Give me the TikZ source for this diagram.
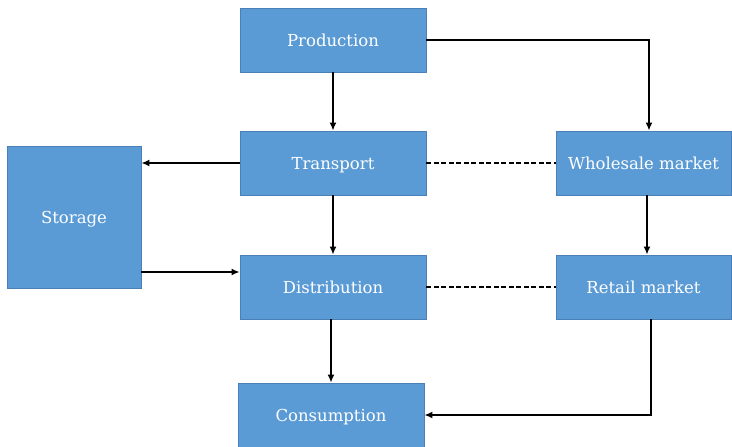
\documentclass[tikz,border=0pt]{standalone}
\usepackage{fontspec}
\setmainfont{DejaVu Serif}
\usetikzlibrary{arrows.meta,positioning}
\definecolor{boxblue}{HTML}{5B9BD5}
\definecolor{boxedge}{HTML}{4A80B8}

\begin{document}
\begin{tikzpicture}[x=1pt,y=1pt,
  stage/.style={draw=boxedge, line width=0.8pt, fill=boxblue, text=white,
    minimum width=186pt, minimum height=64pt, inner sep=0pt,
    text height=12pt, text depth=0pt,
    font=\fontsize{16.5}{19}\selectfont},
  flow/.style={line width=1.6pt, -{Latex[length=8pt,width=7pt]}},
  link/.style={line width=1.6pt, dashed, dash pattern=on 5pt off 2.5pt}]
\useasboundingbox (0,0) rectangle (732,-447);
% main column
\node[stage] (prod) at (333,-40) {Production};
\node[stage] (trans) at (333,-163) {Transport};
\node[stage] (dist) at (333,-287) {Distribution};
\node[stage] (cons) at (331,-415) {Consumption};
% side boxes
\node[stage, minimum width=134pt, minimum height=142pt] (store) at (74,-217) {Storage};
\node[stage, minimum width=175pt] (whole) at (643.5,-163) {Wholesale market};
\node[stage, minimum width=175pt] (retail) at (643.5,-287) {Retail market};
\coordinate (sout) at (141,-272);
\coordinate (rdown) at (651,-319);
% arrows
\draw[flow] (prod) -- (trans);
\draw[flow] (trans) -- (dist);
\draw[flow] (cons.north |- dist.south) -- (cons.north);
\draw[flow] (prod.east) -| ([xshift=5.5pt]whole.north);
\draw[flow] ([xshift=3.5pt]whole.south) -- ([xshift=3.5pt]retail.north);
\draw[flow] (trans.west) -- (store.east |- trans.west);
\draw[flow] (sout) -- (dist.west |- sout);
\draw[flow] (rdown) |- (cons.east);
\draw[link] (trans.east) -- (whole.west);
\draw[link] (dist.east) -- (retail.west);
\end{tikzpicture}
\end{document}
